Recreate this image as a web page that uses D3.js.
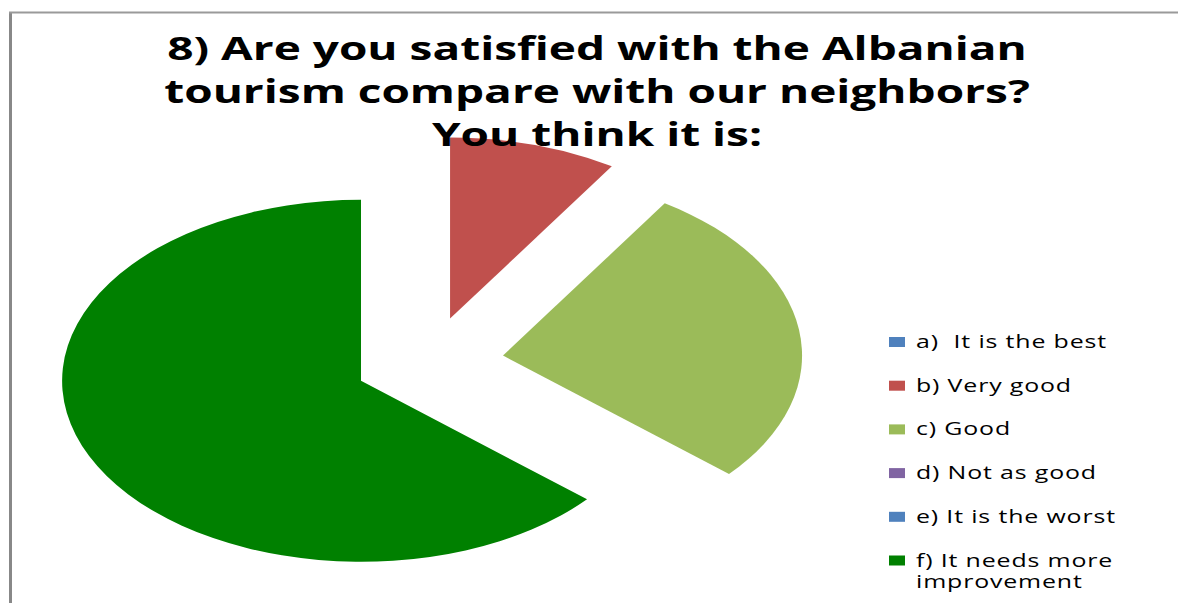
<!DOCTYPE html>
<html>
<head>
<meta charset="utf-8">
<script src="https://cdn.jsdelivr.net/npm/d3@7"></script>
<style>
  html, body { margin: 0; padding: 0; background: #ffffff; }
  svg { display: block; }
  .legend-text { white-space: pre; }
</style>
</head>
<body>
<svg id="chart" width="1178" height="603"></svg>
<script>
// Survey question 8: answer counts per option
const titleLines = [
  "8) Are you satisfied with the Albanian",
  "tourism compare with our neighbors?",
  "You think it is:"
];
const categories = [
  "a)  It is the best",
  "b) Very good",
  "c) Good",
  "d) Not as good",
  "e) It is the worst",
  "f) It needs more\nimprovement"
];
const counts = [0, 5, 15, 0, 0, 35];
const colors = ["#4F81BD", "#C0504D", "#9BBB59", "#8064A2", "#4F81BD", "#008000"];

const svg = d3.select("#chart");
const W = 1178, H = 603;

// frame lines of the chart area
svg.append("line").attr("x1", 10.5).attr("y1", 12).attr("x2", 10.5).attr("y2", H)
  .attr("stroke", "#888888").attr("stroke-width", 3);
svg.append("line").attr("x1", 9).attr("y1", 12.5).attr("x2", W).attr("y2", 12.5)
  .attr("stroke", "#9a9a9a").attr("stroke-width", 2);

// Pie: flattened ellipse, every slice pulled out from the centre
const cx = 429, cy = 362, rx = 299, ry = 181, explode = 0.25;
const rows = categories.map((c, i) => ({ label: c, value: counts[i], color: colors[i] }));

const pie = d3.pie().sort(null).value(d => d.value).startAngle(0).endAngle(2 * Math.PI);
const arc = d3.arc().innerRadius(0).outerRadius(1);

const pieG = svg.append("g");
pieG.selectAll("path")
  .data(pie(rows).filter(d => d.data.value > 0))
  .join("path")
  .attr("d", arc)
  .attr("fill", d => d.data.color)
  .attr("transform", d => {
    const mid = (d.startAngle + d.endAngle) / 2;
    const ox = explode * rx * Math.sin(mid);
    const oy = -explode * ry * Math.cos(mid);
    return `translate(${cx + ox},${cy + oy}) scale(${rx},${ry})`;
  });

// Title, drawn above the pie
const titleG = svg.append("g");
const titleX = 597, titleY0 = 60, titleStep = 43;
const tText = titleG.selectAll("text")
  .data(titleLines)
  .join("text")
  .attr("x", 0)
  .attr("y", (d, i) => titleY0 + i * titleStep)
  .attr("text-anchor", "middle")
  .attr("font-family", "'Open Sans', 'DejaVu Sans', sans-serif")
  .attr("font-weight", "bold")
  .attr("font-size", 32)
  .attr("fill", "#000000")
  .text(d => d);
const titleNatural = tText.nodes()[0].getComputedTextLength();
const titleStretch = 860 / titleNatural;
titleG.attr("transform", `translate(${titleX},0) scale(${titleStretch},1)`);

// Legend
const legX = 889, legY0 = 348, legStep = 43.7, lineStep = 21.5;
const legG = svg.append("g");
const items = legG.selectAll("g.item")
  .data(rows)
  .join("g")
  .attr("class", "item")
  .attr("transform", (d, i) => `translate(0,${legY0 + i * legStep})`);

items.append("rect")
  .attr("x", legX)
  .attr("y", -11)
  .attr("width", 16)
  .attr("height", 10)
  .attr("fill", d => d.color);

const textG = items.append("g");
const labels = textG.append("text")
  .attr("class", "legend-text")
  .attr("font-family", "'Open Sans', 'DejaVu Sans', sans-serif")
  .attr("font-size", 17.5)
  .attr("letter-spacing", 0.6)
  .attr("fill", "#000000");
labels.selectAll("tspan")
  .data(d => d.label.split("\n"))
  .join("tspan")
  .attr("x", 0)
  .attr("dy", (d, i) => i === 0 ? 0 : lineStep)
  .text(d => d);

let widest = 0;
labels.each(function () {
  d3.select(this).selectAll("tspan").each(function () {
    widest = Math.max(widest, this.getComputedTextLength());
  });
});
const legStretch = 200 / widest;
textG.attr("transform", `translate(916,0) scale(${legStretch},1)`);
</script>
</body>
</html>
